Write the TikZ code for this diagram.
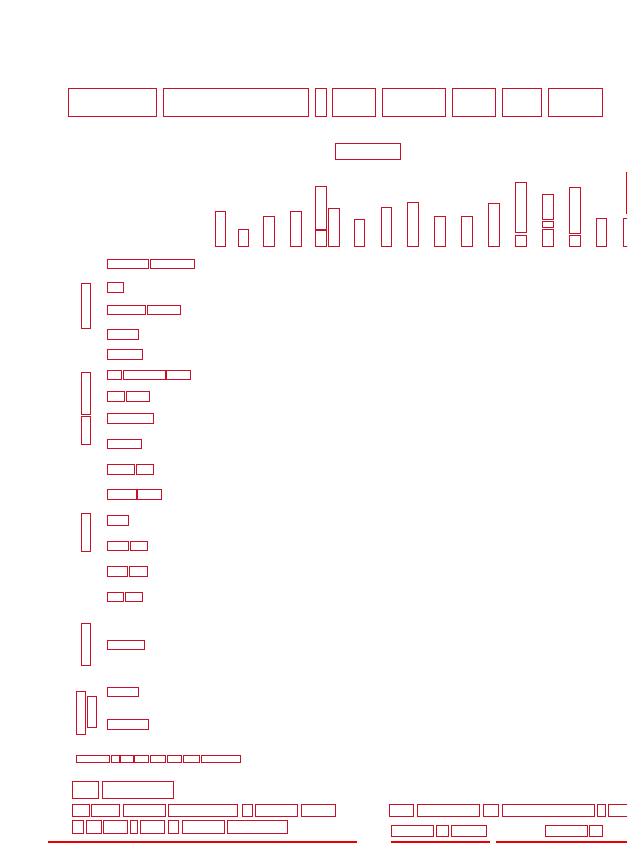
\documentclass[tikz,border=0pt]{standalone}
\definecolor{boxred}{RGB}{200,16,40}
\definecolor{linered}{RGB}{232,0,0}
\tikzset{
  bx/.style={draw=boxred, line width=0.9pt},
  uline/.style={draw=linered, line width=1.6pt}
}
\newcommand{\bxr}[4]{\draw[bx] (#1,#2) rectangle (#3,#4);}
\begin{document}
\begin{tikzpicture}[x=1pt,y=-1pt]
\useasboundingbox (0,0) rectangle (627,843);
\clip (0,0) rectangle (627,843);
% top row
\bxr{68}{88.5}{156.7}{116}
\bxr{163.3}{88.5}{308.3}{116}
\bxr{315}{88.5}{326.3}{116}
\bxr{332.7}{88.5}{375.3}{116}
\bxr{382.3}{88.5}{445}{116}
\bxr{452.3}{88.5}{495.3}{116}
\bxr{502}{88.5}{541}{116}
\bxr{548}{88.5}{602.3}{116}
\bxr{335}{143}{400.7}{159}
% bars
\bxr{215}{211}{225.3}{246}
\bxr{238}{229}{248.7}{246}
\bxr{263}{216}{274}{246}
\bxr{290}{211}{301}{246}
\bxr{315}{186}{326.3}{229}
\bxr{315}{230.7}{326.3}{246}
\bxr{328}{208.7}{339}{246}
\bxr{354}{219}{364.3}{246}
\bxr{381}{207}{391.3}{246}
\bxr{407}{202.3}{418.3}{246}
\bxr{434}{216}{445.3}{246}
\bxr{461}{216}{472.3}{246}
\bxr{488.3}{203}{499.3}{246}
\bxr{515}{182}{526.7}{232.7}
\bxr{515}{235.7}{526.7}{246}
\bxr{542}{194}{553.3}{219}
\bxr{542}{221}{553.3}{227}
\bxr{542}{229.3}{553.3}{246}
\bxr{569}{187}{580.3}{233.3}
\bxr{569}{235.7}{580.3}{246}
\bxr{596.3}{218.3}{606.7}{246}
\bxr{623.3}{218.3}{634}{246}
\draw[draw=linered, line width=1.2pt] (626.2,172.3) rectangle (640,213.3);
% left vertical boxes
\bxr{81.3}{283}{90.3}{328.3}
\bxr{81.3}{372}{90.3}{414.3}
\bxr{81.3}{416.7}{90.3}{444}
\bxr{81.3}{513.3}{90.3}{551.3}
\bxr{81.3}{623}{90.3}{665}
\bxr{76.3}{691}{85}{734.3}
\bxr{87.3}{696.7}{96}{727}
% left rows
\bxr{107}{259.3}{148.7}{268.3}
\bxr{150.7}{259.3}{194.3}{268.3}
\bxr{107}{282}{123.3}{292.3}
\bxr{107}{305}{145.3}{314}
\bxr{147.3}{305}{180.3}{314}
\bxr{107}{329}{138.7}{339}
\bxr{107}{349.7}{142.3}{359.3}
\bxr{107}{370}{121.7}{379.3}
\bxr{123.7}{370}{165.3}{379.3}
\bxr{166.3}{370}{190.7}{379.3}
\bxr{107}{391.3}{124.7}{401}
\bxr{126.7}{391.3}{149.7}{401}
\bxr{107}{413}{153.7}{423}
\bxr{107}{439}{141.3}{448.7}
\bxr{107}{464}{134}{474}
\bxr{136.7}{464}{153.7}{474}
\bxr{107}{489.7}{136}{499.3}
\bxr{137.7}{489.7}{161.3}{499.3}
\bxr{107}{515}{128.7}{525}
\bxr{107}{541}{128}{550.7}
\bxr{130.7}{541}{147.3}{550.7}
\bxr{107}{566.3}{127.7}{576}
\bxr{129.7}{566.3}{147.3}{576}
\bxr{107}{592}{123.7}{601}
\bxr{125.7}{592}{142.3}{601}
\bxr{107}{640}{144.7}{649.3}
\bxr{107}{687.3}{138.7}{696}
\bxr{107}{719}{148.3}{729.3}
% row 19
\bxr{76.3}{755}{109.7}{762.7}
\bxr{111.7}{755}{119}{762.7}
\bxr{120.7}{755}{133}{762.7}
\bxr{134.7}{755}{148.3}{762.7}
\bxr{150.3}{755}{165.3}{762.7}
\bxr{167.3}{755}{181}{762.7}
\bxr{183}{755}{199.3}{762.7}
\bxr{201.7}{755}{240.3}{762.7}
% bottom left block
\bxr{72.3}{781.7}{98}{798}
\bxr{102.7}{781.7}{173}{798}
\bxr{72.3}{804}{89}{816.7}
\bxr{91}{804}{119.7}{816.7}
\bxr{123}{804}{165}{816.7}
\bxr{168.3}{804}{237.3}{816.7}
\bxr{242}{804}{252.7}{816.7}
\bxr{255}{804}{297.7}{816.7}
\bxr{301}{804}{335.7}{816.7}
\bxr{72.3}{820}{83.3}{833}
\bxr{86}{820}{101}{833}
\bxr{103.3}{820}{127.7}{833}
\bxr{130.7}{820}{137}{833}
\bxr{140.3}{820}{164}{833}
\bxr{168.3}{820}{178.7}{833}
\bxr{182}{820}{224.3}{833}
\bxr{227.7}{820}{287}{833}
% bottom right block
\bxr{389}{804.3}{413.7}{816.7}
\bxr{417}{804.3}{479.7}{816.7}
\bxr{483}{804.3}{498.3}{816.7}
\bxr{502}{804.3}{594.3}{816.7}
\bxr{597.7}{804.3}{605.3}{816.7}
\bxr{608}{804.3}{640}{816.7}
\bxr{391}{825.7}{433.3}{836.7}
\bxr{436}{825.7}{448.7}{836.7}
\bxr{451}{825.7}{486.3}{836.7}
\bxr{545.3}{825.7}{587.3}{836.7}
\bxr{589.3}{825.7}{602.3}{836.7}
% underlines
\coordinate (la) at (48,842);
\coordinate (lb) at (357.3,842);
\coordinate (lc) at (391,842);
\coordinate (ld) at (490,842);
\coordinate (le) at (495.7,842);
\coordinate (lf) at (626.7,842);
\draw[uline] (la) -- (lb);
\draw[uline] (lc) -- (ld);
\draw[uline] (le) -- (lf);
\end{tikzpicture}
\end{document}
